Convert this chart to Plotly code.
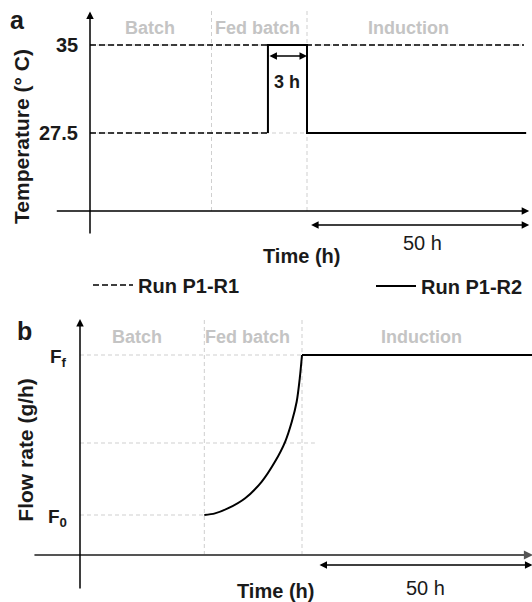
import plotly.graph_objects as go

# ---------------- data ----------------
# Panel a: temperature schedule (schematic time, h)
phase_names = ["Batch", "Fed batch", "Induction"]
phase_bounds = [0, 28, 50, 100]          # batch | fed batch | induction (50 h)
temp_levels = [27.5, 35]
temp_ticks = ["27.5", "35"]

r1_t = [0, 100, None, 0, 41]
r1_T = [35, 35, None, 27.5, 27.5]
r2_t = [41, 41, 50, 50, 100.5]
r2_T = [27.5, 35, 35, 27.5, 27.5]
pulse_span = [41, 50]                     # "3 h" pulse

# Panel b: feed flow rate (schematic)
flow_t = [28, 30.4, 33.4, 37.2, 40.9, 43.9, 46.2, 47.7, 48.8, 49.5, 50, 102]
flow_F = [1.0, 1.04, 1.17, 1.42, 1.83, 2.33, 2.83, 3.33, 3.83, 4.42, 5.0, 5.0]
flow_levels = [1.0, 2.8, 5.0]
flow_ticks = ["F<sub>0</sub>", "", "F<sub>f</sub>"]

FONT = "Liberation Sans, Arial, sans-serif"
GREY = "#c4c4c4"
GRID = "#cfcfcf"

fig = go.Figure()

fig.add_trace(go.Scatter(x=r1_t, y=r1_T, mode="lines", xaxis="x", yaxis="y",
                         line=dict(color="black", width=1.6, dash="6px,3px"),
                         name="<b>Run P1-R1</b>", legend="legend", connectgaps=False))
fig.add_trace(go.Scatter(x=r2_t, y=r2_T, mode="lines", xaxis="x", yaxis="y",
                         line=dict(color="black", width=2),
                         name="<b>Run P1-R2</b>", legend="legend2"))
# exponential feed (fed-batch) as a smooth curve, then constant feed
k = flow_t.index(50)
fig.add_trace(go.Scatter(x=flow_t[:k + 1], y=flow_F[:k + 1], mode="lines", xaxis="x2", yaxis="y2",
                         line=dict(color="black", width=2, shape="spline", smoothing=0.8),
                         showlegend=False))
fig.add_trace(go.Scatter(x=flow_t[k:], y=flow_F[k:], mode="lines", xaxis="x2", yaxis="y2",
                         line=dict(color="black", width=2), showlegend=False))

shapes = []
ann = []

def txt(x, y, s, xr, yr, size=20, color="#1a1a1a", bold=True, xanchor="center", angle=0):
    ann.append(dict(x=x, y=y, xref=xr, yref=yr, text=(f"<b>{s}</b>" if bold else s),
                    showarrow=False, xanchor=xanchor, yanchor="middle", textangle=angle,
                    font=dict(family=FONT, size=size, color=color)))

def arrow(x0, y0, x1, y1, xr, yr, both=False, color="black", width=1.5):
    ann.append(dict(x=x1, y=y1, ax=x0, ay=y0, xref=xr, yref=yr, axref=xr, ayref=yr,
                    text="", showarrow=True, arrowhead=2, arrowsize=1, arrowwidth=width,
                    arrowcolor=color, arrowside="end+start" if both else "end",
                    startarrowhead=2, startarrowsize=1, standoff=0, startstandoff=0))

def seg(x0, y0, x1, y1, xr, yr, color=GRID, dash="4px,3px", width=1):
    shapes.append(dict(type="line", x0=x0, y0=y0, x1=x1, y1=y1, xref=xr, yref=yr,
                       layer="below", line=dict(color=color, width=width, dash=dash)))

# ---------- panel a ----------
a_floor = 20.85
for lvl in temp_levels:
    seg(phase_bounds[0], lvl, phase_bounds[3], lvl, "x", "y")
for b in phase_bounds[1:3]:
    seg(b, a_floor, b, 37.98, "x", "y")
arrow(-8, a_floor, 101.2, a_floor, "x", "y")
arrow(0, 18.8, 0, 37.85, "x", "y")
arrow(pulse_span[0], 34.06, pulse_span[1], 34.06, "x", "y", both=True)
arrow(50.6, 19.66, 101.2, 19.66, "x", "y", both=True)
for lvl, lab in zip(temp_levels, temp_ticks):
    txt(-2.2, lvl, lab, "x", "y", size=20, xanchor="right")
phase_x_a = [13.8, 38.5, 73.3]
for px_, nm in zip(phase_x_a, phase_names):
    txt(px_, 36.45, nm, "x", "y", size=18, color=GREY)
txt(45.4, 31.85, "3 h", "x", "y", size=18)
txt(48.8, 17.0, "Time (h)", "x", "y", size=20)
txt(76.7, 18.1, "50 h", "x", "y", size=20, bold=False)
txt(-15.8, 27.2, "Temperature (° C)", "x", "y", size=21, angle=-90)
txt(-16.6, 37.1, "a", "x", "y", size=25)

# ---------- panel b ----------
seg(0, flow_levels[2], 50, flow_levels[2], "x2", "y2")
seg(0, flow_levels[1], 52.9, flow_levels[1], "x2", "y2")
seg(0, flow_levels[0], 28, flow_levels[0], "x2", "y2")
for b in phase_bounds[1:3]:
    seg(b, 0, b, 5.9, "x2", "y2")
arrow(-10.6, 0, 102, 0, "x2", "y2", color="#555555", width=1.8)
arrow(0, -0.875, 0, 5.9, "x2", "y2")
arrow(53.6, -0.25, 101.9, -0.25, "x2", "y2", both=True)
for lvl, lab in zip(flow_levels, flow_ticks):
    if lab:
        txt(-2.4, lvl - 0.08, lab, "x2", "y2", size=19, xanchor="right")
phase_x_b = [12.8, 37.8, 77.0]
for px_, nm in zip(phase_x_b, phase_names):
    txt(px_, 5.45, nm, "x2", "y2", size=18, color=GREY)
txt(44.1, -0.9, "Time (h)", "x2", "y2", size=20)
txt(77.9, -0.83, "50 h", "x2", "y2", size=20, bold=False)
txt(-12.2, 2.63, "Flow rate (g/h)", "x2", "y2", size=21, angle=-90)
txt(-12.4, 5.6, "b", "x2", "y2", size=25)

hidden = dict(visible=False, showgrid=False, zeroline=False, fixedrange=True)
leg = dict(xanchor="left", yanchor="middle", bgcolor="rgba(0,0,0,0)", borderwidth=0,
           font=dict(family=FONT, size=20, color="#1a1a1a"), itemwidth=40)
fig.update_layout(
    width=532, height=602, margin=dict(l=0, r=0, t=0, b=0),
    paper_bgcolor="white", plot_bgcolor="white",
    xaxis=dict(domain=[0, 1], range=[-20.737, 101.843], anchor="y", **hidden),
    yaxis=dict(domain=[302 / 602, 1], range=[13.267, 38.835], anchor="x", **hidden),
    xaxis2=dict(domain=[0, 1], range=[-18.018, 101.802], anchor="y2", **hidden),
    yaxis2=dict(domain=[0, 302 / 602], range=[-1.175, 6.375], anchor="x2", **hidden),
    shapes=shapes, annotations=ann,
    legend=dict(x=88 / 532, y=(602 - 285) / 602, **leg),
    legend2=dict(x=371 / 532, y=(602 - 286) / 602, **leg),
    showlegend=True,
)

fig.write_html("out.html")
